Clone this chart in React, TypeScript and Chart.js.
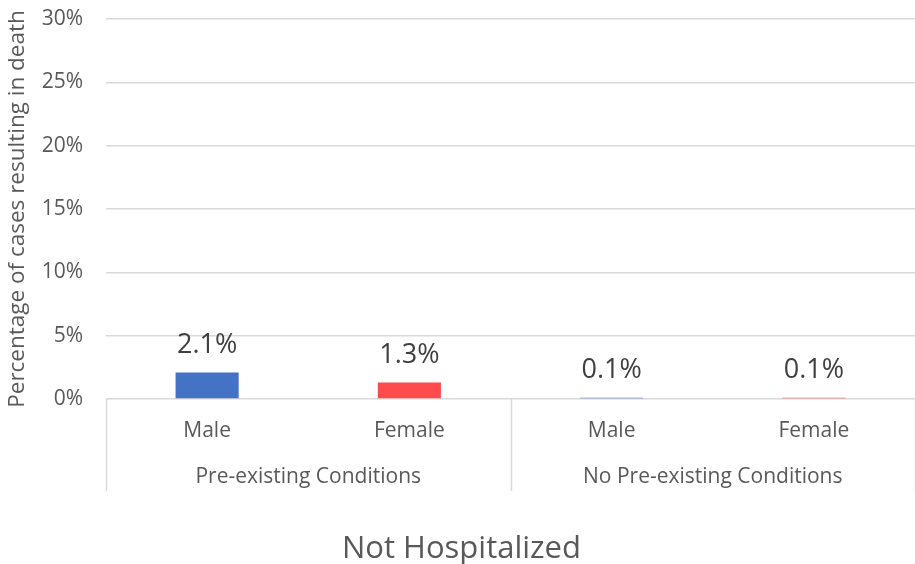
import React, { useEffect, useRef } from "react";
import { Chart, registerables } from "chart.js";

Chart.register(...registerables);

const categories = ["Male", "Female", "Male", "Female"];
const groups = ["Pre-existing Conditions", "No Pre-existing Conditions"];
const groupSizes = [2, 2];
const values = [2.1, 1.3, 0.1, 0.1];
const valueLabels = ["2.1%", "1.3%", "0.1%", "0.1%"];
const barColors = ["#4472C4", "#FF4B4B", "#4472C4", "#FF4B4B"];
const yMin = 0;
const yMax = 30;
const yStep = 5;
const yTitle = "Percentage of cases resulting in death";
const chartTitle = "Not Hospitalized";

const FONT = "'Open Sans', 'Noto Sans', sans-serif";
const TEXT = "#595959";
const GRID = "#D9D9D9";

const xLabelsPlugin = {
  id: "xLabels",
  afterDraw(chart: any) {
    const ctx = chart.ctx;
    const xs = chart.scales.x;
    const area = chart.chartArea;
    ctx.save();
    ctx.fillStyle = TEXT;
    ctx.textAlign = "center";
    ctx.textBaseline = "alphabetic";
    ctx.font = `21px ${FONT}`;
    categories.forEach((c, i) => {
      ctx.fillText(c, xs.getPixelForValue(i), area.bottom + 38);
    });
    let start = 0;
    const seps: number[] = [xs.left];
    groups.forEach((g, gi) => {
      const end = start + groupSizes[gi] - 1;
      const cx = (xs.getPixelForValue(start) + xs.getPixelForValue(end)) / 2;
      ctx.fillText(g, cx, area.bottom + 84);
      const next = end + 1;
      if (next < categories.length) {
        seps.push((xs.getPixelForValue(end) + xs.getPixelForValue(next)) / 2);
      } else {
        seps.push(xs.right);
      }
      start = next;
    });
    ctx.strokeStyle = GRID;
    ctx.lineWidth = 1.5;
    seps.forEach((sx) => {
      const px = Math.round(sx) + 0.5;
      ctx.beginPath();
      ctx.moveTo(px, area.bottom);
      ctx.lineTo(px, area.bottom + 92);
      ctx.stroke();
    });
    ctx.font = `31px ${FONT}`;
    ctx.fillText(chartTitle, chart.width / 2 + 4, 558);
    ctx.restore();
  },
};

const dataLabelPlugin = {
  id: "dataLabels",
  afterDatasetsDraw(chart: any) {
    const ctx = chart.ctx;
    const meta = chart.getDatasetMeta(0);
    ctx.save();
    ctx.fillStyle = "#404040";
    ctx.textAlign = "center";
    ctx.textBaseline = "alphabetic";
    ctx.font = `27px ${FONT}`;
    meta.data.forEach((bar: any, i: number) => {
      ctx.fillText(valueLabels[i], bar.x, bar.y - 19.5);
    });
    ctx.restore();
  },
};

export default function App() {
  const ref = useRef<HTMLCanvasElement>(null);
  useEffect(() => {
    if (!ref.current) return;
    const chart = new Chart(ref.current, {
      type: "bar",
      data: {
        labels: categories,
        datasets: [
          {
            data: values,
            backgroundColor: barColors,
            borderWidth: 0,
            categoryPercentage: 1,
            barPercentage: 0.312,
          },
        ],
      },
      options: {
        animation: false,
        responsive: true,
        maintainAspectRatio: false,
        layout: { padding: { top: 19, right: -3, bottom: 0, left: 0 } },
        plugins: {
          legend: { display: false },
          tooltip: { enabled: false },
          title: { display: false },
        },
        scales: {
          x: {
            type: "category",
            grid: { display: false },
            border: { display: false },
            ticks: { display: false },
            afterFit(scale: any) {
              scale.height = 165;
            },
          },
          y: {
            min: yMin,
            max: yMax,
            ticks: {
              stepSize: yStep,
              color: TEXT,
              font: { family: FONT, size: 21 },
              padding: 23,
              callback: (v: any) => v + "%",
            },
            grid: { color: GRID, drawTicks: false, lineWidth: 1.5 },
            border: { display: false },
            title: {
              display: true,
              text: yTitle,
              color: TEXT,
              font: { family: FONT, size: 22.5 },
              padding: { top: 4, bottom: 0 },
            },
            afterFit(scale: any) {
              scale.width = 106;
              scale.paddingTop = 0;
              scale.paddingBottom = 0;
            },
          },
        },
      },
      plugins: [xLabelsPlugin, dataLabelPlugin],
    });
    return () => chart.destroy();
  }, []);
  return (
    <div style={{ position: "absolute", left: 0, top: 0, width: 915, height: 564, background: "#fff" }}>
      <canvas ref={ref} />
    </div>
  );
}
